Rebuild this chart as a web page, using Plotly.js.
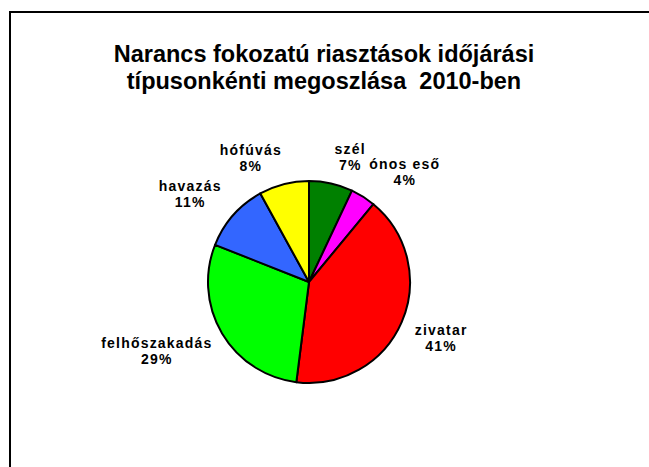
<!DOCTYPE html>
<html>
<head>
<meta charset="utf-8">
<script src="https://cdn.plot.ly/plotly-3.0.1.min.js"></script>
<style>
html,body{margin:0;padding:0;background:#fff;}
#chart{width:649px;height:467px;}
#chart .annotation-text{letter-spacing:1.2px;}
</style>
</head>
<body>
<div id="chart"></div>
<script>
const categories = ["szél", "ónos eső", "zivatar", "felhőszakadás", "havazás", "hófúvás"];
const values = [7, 4, 41, 29, 11, 8];
const colors = ["#008000", "#FF00FF", "#FF0000", "#00FF00", "#3366FF", "#FFFF00"];
const titleLines = ["Narancs fokozatú riasztások időjárási", "típusonkénti megoszlása  2010-ben"];

const W = 649, H = 467;
const cx = 309, cy = 282, r = 101;
const labelGap = 17;
const FONT = "Liberation Sans, Arial, sans-serif";

const sp = t => '<span style="font-size:14px">' + t + '</span>';
const labels = categories.map((c, i) => sp(c) + "<br>" + sp(values[i] + "%"));

const total = values.reduce((a, b) => a + b, 0);
let cum = 0;
const mids = values.map(v => { const m = (cum + v / 2) / total * 2 * Math.PI; cum += v; return m; });

function buildAnnotations() {
  const R = r + labelGap;
  return categories.map((c, i) => {
    const s = Math.sin(mids[i]), co = Math.cos(mids[i]);
    const px = cx + R * s;
    const py = cy - R * co;
    return {
      xref: "paper", yref: "paper", x: px / W, y: 1 - py / H,
      xanchor: s >= 0 ? "left" : "right",
      yanchor: co >= 0 ? "bottom" : "top",
      yshift: co >= 0 ? -8 : 9,
      align: "center",
      text: labels[i], showarrow: false,
      font: {family: FONT, size: 12.3, color: "#000", weight: "bold"}
    };
  });
}

const titleText = titleLines.map(t => '<span style="font-size:23.5px">' + t + '</span>').join("<br>");

const trace = {
  type: "pie",
  labels: categories,
  values: values,
  textinfo: "none",
  hoverinfo: "none",
  sort: false,
  direction: "clockwise",
  rotation: 0,
  marker: {colors: colors, line: {color: "#000", width: 2}},
  domain: {x: [(cx - r) / W, (cx + r) / W], y: [(H - cy - r) / H, (H - cy + r) / H]},
  automargin: false,
  showlegend: false
};

const layout = {
  width: W, height: H,
  margin: {l: 0, r: 0, t: 0, b: 0},
  paper_bgcolor: "#fff",
  showlegend: false,
  title: {
    text: titleText,
    font: {family: FONT, size: 20.8, color: "#000", weight: "bold"},
    x: 324 / W, xanchor: "center",
    y: 1 - 62 / H, yanchor: "top"
  },
  annotations: buildAnnotations(),
  shapes: [{
    type: "rect", xref: "paper", yref: "paper",
    x0: 10 / W, x1: 1.1, y0: -0.1, y1: 1 - 12 / H,
    line: {color: "#000", width: 2}
  }]
};

Plotly.newPlot("chart", [trace], layout, {staticPlot: true, displayModeBar: false});
</script>
</body>
</html>
